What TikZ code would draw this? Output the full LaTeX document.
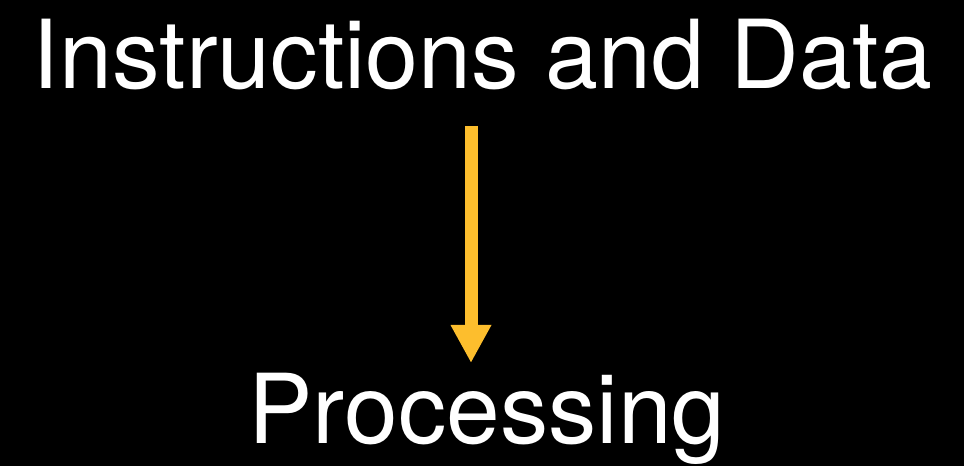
\documentclass[tikz,border=0pt]{standalone}
\usepackage{fontspec}
\setmainfont{TeX Gyre Heros}
\usetikzlibrary{arrows.meta}
\definecolor{arrowyellow}{RGB}{253,190,45}
\tikzset{
  label/.style={text=white, inner sep=0pt, anchor=base},
  flow/.style={draw=arrowyellow, line width=13pt, -{Triangle[width=38pt,length=38pt]}, arrowyellow}
}
\begin{document}
\begin{tikzpicture}[x=1pt,y=1pt]
\fill[black] (0,0) rectangle (964,466);
\useasboundingbox (0,0) rectangle (964,466);
\node[label, font=\fontsize{95.2}{100}\selectfont] (top) at (482.5,377) {Instructions and Data};
\node[label, font=\fontsize{96.5}{100}\selectfont] (proc) at (487,23) {Processing};
\coordinate (s) at (471,340);
\coordinate (e) at (471,103);
\draw[flow] (s) -- (e);
\end{tikzpicture}
\end{document}
